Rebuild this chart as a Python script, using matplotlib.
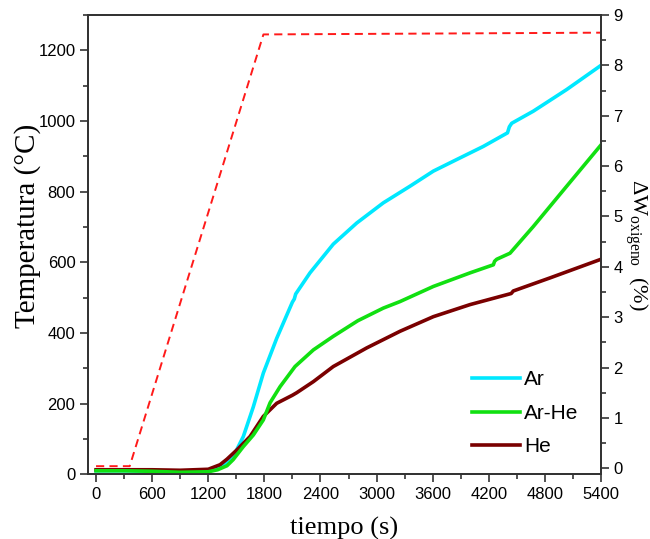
import matplotlib
matplotlib.use("Agg")
import matplotlib.pyplot as plt
from matplotlib.ticker import MultipleLocator

plt.rcParams['font.family'] = ['Liberation Sans', 'DejaVu Sans']
plt.rcParams['mathtext.fontset'] = 'custom'
plt.rcParams['mathtext.rm'] = 'Liberation Serif'
plt.rcParams['mathtext.it'] = 'Liberation Serif:italic'

# ---- data ----
# furnace temperature programme (left axis, °C)
temp_t = [0, 360, 1790, 5400]
temp_T = [23, 23, 1245, 1250]

# oxygen mass gain (right axis, %)
ar_t = [0, 300, 600, 900, 1200, 1300, 1400, 1433, 1500, 1575, 1682, 1789, 1932,
        2100, 2120, 2135, 2288, 2537, 2788, 3072, 3357, 3607, 3857, 4141, 4400,
        4420, 4445, 4676, 5033, 5400]
ar_w = [-0.05, -0.05, -0.06, -0.07, -0.06, 0.0, 0.10, 0.17, 0.35, 0.63, 1.22, 1.89, 2.58,
        3.30, 3.36, 3.46, 3.88, 4.45, 4.87, 5.27, 5.60, 5.90, 6.13, 6.39, 6.66,
        6.78, 6.85, 7.09, 7.52, 8.00]

arhe_t = [0, 300, 600, 900, 1200, 1300, 1400, 1466, 1575, 1682, 1789, 1861, 1968,
          2128, 2324, 2537, 2800, 3072, 3251, 3607, 4000, 4249, 4262, 4285, 4427,
          4676, 5033, 5400]
arhe_w = [-0.05, -0.05, -0.06, -0.08, -0.07, -0.03, 0.05, 0.17, 0.43, 0.66, 0.96, 1.30, 1.62,
          2.02, 2.35, 2.62, 2.93, 3.18, 3.31, 3.61, 3.88, 4.04, 4.11, 4.15, 4.27,
          4.80, 5.60, 6.42]

he_t = [0, 300, 600, 900, 1200, 1326, 1400, 1504, 1647, 1789, 1932, 2100, 2146,
        2324, 2537, 2895, 3251, 3607, 4000, 4440, 4462, 4855, 5400]
he_w = [-0.03, -0.03, -0.03, -0.04, -0.02, 0.07, 0.18, 0.36, 0.63, 1.03, 1.29, 1.45, 1.50,
        1.72, 2.02, 2.39, 2.72, 3.01, 3.25, 3.47, 3.52, 3.78, 4.15]

x_ticks = [0, 600, 1200, 1800, 2400, 3000, 3600, 4200, 4800, 5400]

# ---- figure ----
fig = plt.figure(figsize=(6.5, 5.39), dpi=100)
ax = fig.add_axes([88 / 650, (539 - 474.3) / 539, (601 - 88) / 650, (474.3 - 15) / 539])
ax2 = ax.twinx()

ax.plot(temp_t, temp_T, color='#ff1a1a', lw=1.4, dashes=(4.2, 2.7))

l_ar, = ax2.plot(ar_t, ar_w, color='#00e8ff', lw=2.6, label='Ar')
l_he, = ax2.plot(he_t, he_w, color='#7a0000', lw=2.6, label='He')
l_arhe, = ax2.plot(arhe_t, arhe_w, color='#11e011', lw=2.6, label='Ar-He')

ax.set_xlim(-86, 5400)
ax.set_ylim(0, 1300)
ax2.set_ylim(-0.12, 9.0)

ax.set_xticks(x_ticks)
ax.xaxis.set_minor_locator(MultipleLocator(300))
ax.yaxis.set_major_locator(MultipleLocator(200))
ax.yaxis.set_minor_locator(MultipleLocator(100))
ax2.yaxis.set_major_locator(MultipleLocator(1))
ax2.yaxis.set_minor_locator(MultipleLocator(0.5))

spine_c = '#333333'
for a in (ax, ax2):
    for s in a.spines.values():
        s.set_linewidth(1.3)
        s.set_color(spine_c)
    a.tick_params(which='major', direction='out', length=6, width=1.2, color=spine_c,
                  labelsize=12, pad=3)
    a.tick_params(which='minor', direction='out', length=3.5, width=1.2, color=spine_c)

ax.tick_params(axis='x', which='both', top=False)

serif = ['Liberation Serif', 'DejaVu Serif']
ax.set_xlabel('tiempo (s)', family=serif, fontsize=19, va='center')
ax.xaxis.set_label_coords(0.5, -0.117)
ax.set_ylabel('Temperatura (°C)', family=serif, fontsize=21, va='center')
ax.yaxis.set_label_coords(-0.118, 0.54)
ax2.set_ylabel('ΔW$_{\\mathrm{oxigeno}}$  (%)', family=serif, fontsize=16,
               rotation=-90, va='center')
ax2.yaxis.set_label_coords(1.069, 0.5)

leg = ax2.legend(handles=[l_ar, l_arhe, l_he], loc='upper left',
                 bbox_to_anchor=(0.7485, 0.2265), frameon=False, fontsize=15,
                 handlelength=2.3, handletextpad=0.2, labelspacing=0.7,
                 borderpad=0, borderaxespad=0)

fig.savefig('out.png', dpi=100)
